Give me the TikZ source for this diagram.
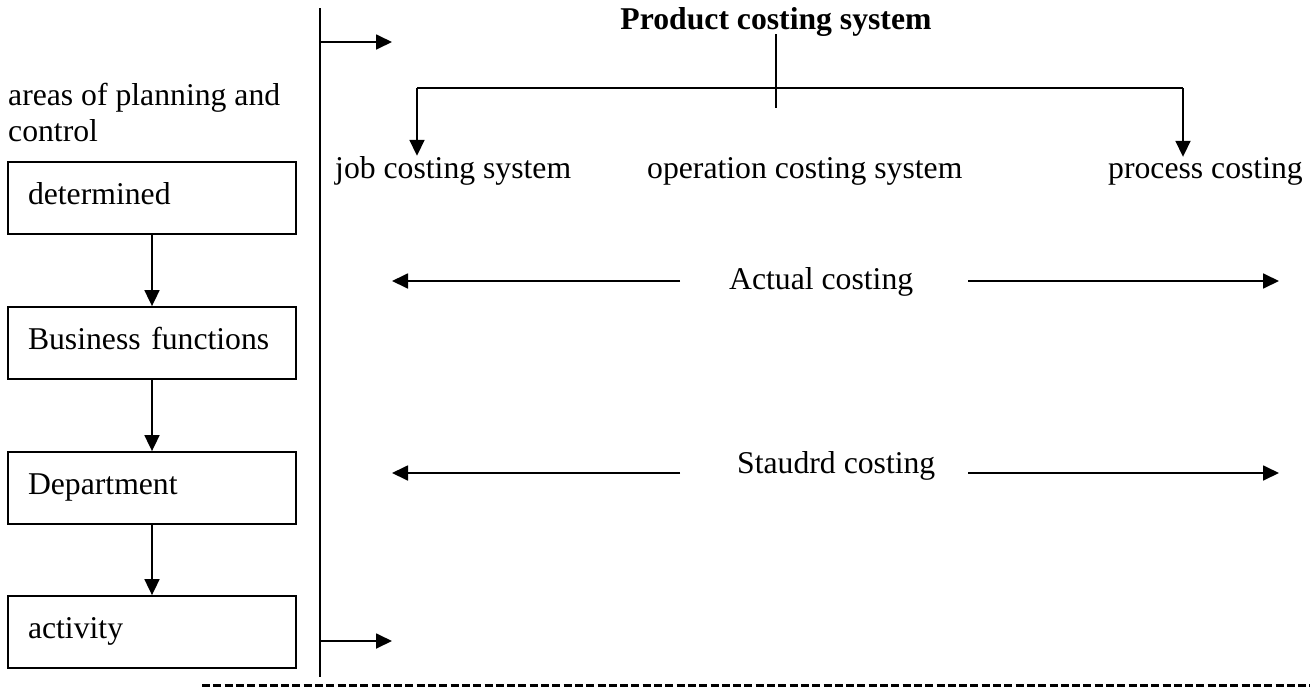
\documentclass[tikz,border=0pt]{standalone}
\usepackage{fontspec}
\setmainfont{Liberation Serif}
\usepackage{tikz}
\usetikzlibrary{arrows.meta}
\tikzstyle{arrow} = [line width=1.8pt,-{Triangle[length=16pt,width=15pt]}]
\tikzstyle{levelbox} = [rectangle, draw, line width=1.8pt, minimum width=288pt, minimum height=72pt, text width=248pt, align=left, inner xsep=20pt, inner ysep=0pt, text height=20pt, text depth=8pt]
\tikzstyle{plain} = [inner sep=0pt]

\begin{document}
\begin{tikzpicture}[x=1pt,y=-1pt,font=\fontsize{31.7}{36}\selectfont]
\useasboundingbox (0,0) rectangle (1310,691);
% planning levels
\node[plain, anchor=north west, align=left] (areas) at (8,83.3) {areas of planning and\\control};
\node[levelbox] (det) at (152,198) {determined};
\node[levelbox] (bus) at (152,343) {Business functions};
\node[levelbox] (dep) at (152,488) {Department};
\node[levelbox] (act) at (152,632) {activity};
\draw[arrow] (det) -- (bus);
\draw[arrow] (bus) -- (dep);
\draw[arrow] (dep) -- (act);

% divider
\coordinate (vtop) at (320,8);
\coordinate (vbot) at (320,677);
\draw[line width=1.8pt] (vtop) -- (vbot);
\coordinate (upin) at (320,42);
\coordinate (upout) at (392,42);
\coordinate (lowin) at (320,641);
\coordinate (lowout) at (392,641);
\draw[arrow] (upin) -- (upout);
\draw[arrow] (lowin) -- (lowout);

% costing systems
\node[plain, anchor=base, font=\fontsize{31.7}{36}\selectfont\bfseries] (pcs) at (776,29) {Product costing system};
\node[plain, anchor=base west] (job) at (335,178) {job costing system};
\node[plain, anchor=base west] (op) at (647,178) {operation costing system};
\node[plain, anchor=base west] (proc) at (1108,178) {process costing};
\coordinate (stub) at (776,108);
\coordinate (barL) at (417,88);
\coordinate (barR) at (1183,88);
\draw[line width=1.8pt] (pcs.south) ++(0,-2) -- (stub);
\draw[line width=1.8pt] (barL) -- (barR);
\draw[arrow] (barL) -- (barL |- job.north);
\draw[arrow] (barR) -- (barR |- proc.north);

% costing methods
\node[plain, anchor=base west] (actual) at (729,289) {Actual costing};
\node[plain, anchor=base west] (staudrd) at (737,473) {Staudrd costing};
\coordinate (aL0) at (680,281);
\coordinate (aL) at (392,281);
\coordinate (aR0) at (968,281);
\coordinate (aR) at (1279,281);
\coordinate (sL0) at (680,473);
\coordinate (sL) at (392,473);
\coordinate (sR0) at (968,473);
\coordinate (sR) at (1279,473);
\draw[arrow] (aL0) -- (aL);
\draw[arrow] (aR0) -- (aR);
\draw[arrow] (sL0) -- (sL);
\draw[arrow] (sR0) -- (sR);

\coordinate (dashL) at (202,685);
\coordinate (dashR) at (1310,685);
\draw[line width=3pt, dash pattern=on 8pt off 3.3pt] (dashL) -- (dashR);
\end{tikzpicture}
\end{document}
